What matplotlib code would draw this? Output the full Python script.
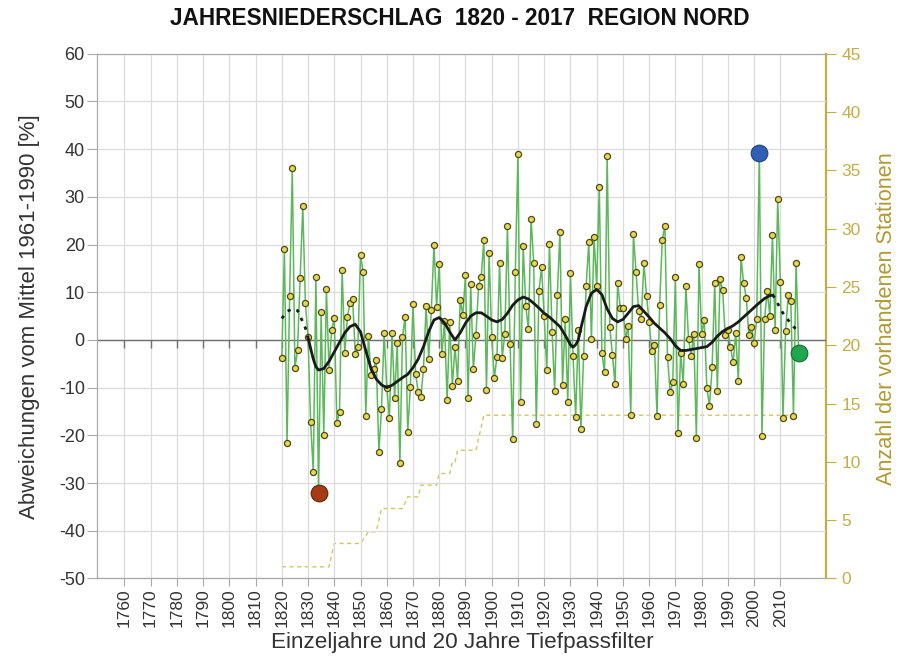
import numpy as np
import matplotlib.pyplot as plt

plt.rcParams['font.family'] = ['Liberation Sans', 'DejaVu Sans']
plt.rcParams['axes.unicode_minus'] = False

# ------------------------------------------------------------
# DATA
# ------------------------------------------------------------
years = np.arange(1820, 2018)
precip_dev = [
    -3.8, 19.1, -21.5, 9.2, 36.0, -5.9, -2.1, 13.0, 28.0, 7.7,        # 1820s
    0.7, -17.3, -27.7, 13.3, -32.0, 5.9, -19.9, 10.7, -6.3, 2.1,      # 1830s
    4.6, -17.4, -15.0, 14.7, -2.7, 4.8, 7.8, 8.6, -2.9, -1.4,         # 1840s
    17.8, 14.3, -15.9, 0.8, -7.3, -6.0, -4.3, -23.4, -14.5, 1.5,      # 1850s
    -10.0, -16.4, 1.5, -12.2, -0.7, -25.8, 0.7, 4.9, -19.2, -9.8,     # 1860s
    7.5, -7.1, -11.0, -12.0, -6.1, 7.1, -4.0, 6.3, 20.0, 7.0,         # 1870s
    15.9, -3.0, 4.0, -12.6, 3.7, -9.6, -1.4, -8.5, 8.4, 5.2,          # 1880s
    13.6, -12.1, 11.7, -6.1, 1.0, 11.4, 13.1, 21.0, -10.5, 18.2,      # 1890s
    0.6, -8.0, -3.5, 16.2, -3.8, 1.3, 23.8, -0.8, -20.8, 14.3,        # 1900s
    38.9, -12.9, 19.8, 7.1, 2.2, 25.4, 16.2, -17.6, 10.3, 15.2,       # 1910s
    5.0, -6.4, 20.1, 1.7, -10.6, 9.4, 22.7, -9.4, 4.3, -13.1,         # 1920s
    14.0, -3.4, -16.1, 2.0, -18.7, -3.4, 11.3, 20.6, 0.3, 21.5,       # 1930s
    11.3, 32.1, -2.8, -6.8, 38.6, 2.7, -3.1, -9.3, 11.9, 6.8,         # 1940s
    6.8, 0.1, 3.0, -15.7, 22.2, 14.3, 6.0, 4.3, 16.2, 9.3,            # 1950s
    3.7, -2.3, -1.0, -15.9, 7.3, 21.0, 23.9, -3.5, -11.0, -8.9,       # 1960s
    13.1, -19.4, -2.7, -9.2, 11.3, 0.3, -3.4, 1.3, -20.6, 15.9,       # 1970s
    1.2, 4.1, -10.1, -13.8, -5.7, 12.0, -10.7, 12.7, 10.5, 1.0,       # 1980s
    2.1, -1.5, -4.7, 1.5, -8.7, 17.3, 12.0, 8.9, 1.0, 2.8,            # 1990s
    -0.7, 4.4, 39.3, -20.1, 4.5, 10.3, 5.0, 22.0, 2.1, 29.5,          # 2000s
    12.2, -16.4, 1.9, 9.4, 8.2, -15.9, 16.2, -2.7,                    # 2010s
]

# 20-year low-pass curve, read at the vertices
filter_years = [1820, 1822, 1824, 1826, 1828, 1829, 1830, 1831, 1832, 1833,
                1834, 1836, 1838, 1840, 1842, 1844, 1846, 1848, 1850, 1852,
                1854, 1856, 1858, 1860, 1862, 1864, 1866, 1868, 1870, 1872,
                1874, 1876, 1878, 1880, 1882, 1884, 1886, 1888, 1890, 1892,
                1894, 1896, 1898, 1900, 1902, 1904, 1906, 1908, 1910, 1912,
                1914, 1916, 1918, 1920, 1922, 1924, 1926, 1928, 1930, 1931,
                1932, 1933, 1934, 1936, 1938, 1940, 1942, 1944, 1946, 1948,
                1950, 1952, 1954, 1956, 1958, 1960, 1962, 1964, 1966, 1968,
                1970, 1972, 1974, 1976, 1978, 1980, 1982, 1984, 1986, 1988,
                1990, 1992, 1994, 1996, 1998, 2000, 2002, 2004, 2006, 2007,
                2008, 2010, 2012, 2014, 2016, 2017]
filter_vals = [4.5, 6.0, 6.5, 6.2, 3.8, 2.5, 0.5, -1.8, -4.0, -5.6,
               -6.3, -6.0, -4.5, -2.5, -0.5, 1.5, 2.8, 3.3, 1.7, -2.2,
               -6.0, -8.2, -9.4, -10.0, -9.5, -8.7, -7.9, -7.2, -5.8, -4.0,
               -1.4, 1.8, 4.2, 4.7, 3.6, 1.7, 0.0, 1.5, 3.5, 5.0,
               5.7, 5.7, 5.0, 4.2, 3.8, 4.3, 5.6, 7.3, 8.4, 9.0,
               8.6, 7.7, 6.7, 5.6, 4.8, 3.8, 2.8, 1.0, -1.0, -1.5,
               -1.0, 0.0, 2.5, 7.0, 9.8, 10.6, 9.5, 6.5, 4.5, 3.8,
               4.3, 5.6, 7.0, 7.2, 6.0, 4.8, 3.5, 2.5, 1.5, 0.3,
               -1.2, -2.2, -2.2, -2.0, -1.8, -1.6, -1.4, -0.5, 0.8, 1.8,
               2.4, 3.0, 3.8, 4.8, 5.8, 6.8, 7.8, 8.7, 9.3, 9.4,
               8.8, 6.5, 4.8, 3.5, 2.2, 1.8]
filter_solid = (1830, 2007)

# number of stations (vertices of the dashed line)
station_years = [1820, 1838, 1840, 1850, 1853, 1856, 1858, 1866, 1868, 1872,
                 1873, 1879, 1880, 1884, 1885, 1886, 1887, 1894, 1897, 2017]
station_counts = [1, 1, 3, 3, 4, 4, 6, 6, 7, 7,
                  8, 8, 9, 9, 10, 10, 11, 11, 14, 14]

decade_ticks = list(range(1760, 2011, 10))

# ------------------------------------------------------------
# FIGURE
# ------------------------------------------------------------
fig = plt.figure(figsize=(9.19, 6.59), dpi=100)
ax = fig.add_axes([0.1059, 0.1222, 0.7929, 0.7962])
ax2 = ax.twinx()
ax.set_zorder(ax2.get_zorder() + 1)
ax.patch.set_visible(False)

GOLD = '#c2ae45'
GOLD_DARK = '#b09a30'
GRAY = '#a8a8a8'

# station count (right axis)
ax2.plot(station_years, station_counts, color='#d4c462', lw=1.0,
         linestyle=(0, (3, 2.5)))
ax2.set_ylim(0, 45)
ax2.set_yticks(range(0, 46, 5))
ax2.tick_params(axis='y', direction='out', length=7, color=GOLD,
                labelsize=12.5, labelcolor=GOLD, pad=4)

# main series
yrs = np.array(years)
vals = np.array(precip_dev)
ax.axhline(0, color='#707070', lw=1.0, zorder=2)
ax.vlines(decade_ticks, -1.6, 0, color='#707070', lw=1.0, zorder=2)
ax.plot(yrs, vals, color='#5cb85a', lw=1.1, zorder=3)
ax.plot(yrs, vals, 'o', ms=4.4, mfc='#e6d852', mec='#4c4a14', mew=0.9, zorder=4)

# low-pass filter: solid in the middle, dotted at both ends
fy = np.array(filter_years)
fv = np.array(filter_vals)
mid = (fy >= filter_solid[0]) & (fy <= filter_solid[1])
left = fy <= filter_solid[0]
right = fy >= filter_solid[1]
ax.plot(fy[mid], fv[mid], color='#1a1a1a', lw=2.0, zorder=5)
for m in (left, right):
    ax.plot(fy[m], fv[m], color='#1a1a1a', lw=2.0, zorder=5,
            linestyle=(0, (1.2, 2.2)))

# highlighted years: wettest, driest, latest
i_max = int(np.argmax(vals))
i_min = int(np.argmin(vals))
ax.plot(yrs[i_max], vals[i_max], 'o', ms=12, mfc='#2f5fb6', mec='#24407a', mew=0.8, zorder=6)
ax.plot(yrs[i_min], vals[i_min], 'o', ms=12, mfc='#a53c16', mec='#5e2410', mew=0.8, zorder=6)
ax.plot(yrs[-1], vals[-1], 'o', ms=12, mfc='#1fa64f', mec='#136b32', mew=0.8, zorder=6)

ax.set_xlim(1749.7, 2027.4)
ax.set_ylim(-50, 60)
ax.set_yticks(range(-50, 61, 10))
ax.set_xticks(decade_ticks)
ax.set_xticklabels([str(d) for d in decade_ticks], rotation=90)
ax.grid(True, color='#dcdcdc', lw=0.9)
ax.set_axisbelow(True)
ax.tick_params(axis='y', direction='out', length=7, color=GRAY,
               labelsize=13, labelcolor='#333333', pad=2)
ax.tick_params(axis='x', direction='out', length=6, color=GRAY,
               labelsize=12.5, labelcolor='#333333', pad=1)

for s in ('left', 'top', 'bottom'):
    ax.spines[s].set_color(GRAY)
    ax2.spines[s].set_color(GRAY)
ax.spines['right'].set_visible(False)
ax2.spines['right'].set_color(GOLD)
ax2.spines['right'].set_linewidth(1.6)

fig.text(0.5005, 0.972, 'JAHRESNIEDERSCHLAG  1820 - 2017  REGION NORD',
         ha='center', va='center', fontsize=16.3, fontweight='bold', color='#111111')
fig.text(0.503, 0.0243, 'Einzeljahre und 20 Jahre Tiefpassfilter',
         ha='center', va='center', fontsize=16.2, color='#333333')
fig.text(0.0326, 0.519, 'Abweichungen vom Mittel 1961-1990 [%]', rotation=90,
         ha='center', va='center', fontsize=16, color='#333333')
fig.text(0.965, 0.517, 'Anzahl der vorhandenen Stationen', rotation=90,
         ha='center', va='center', fontsize=15.6, color=GOLD_DARK)

fig.savefig('out.png', dpi=100)
